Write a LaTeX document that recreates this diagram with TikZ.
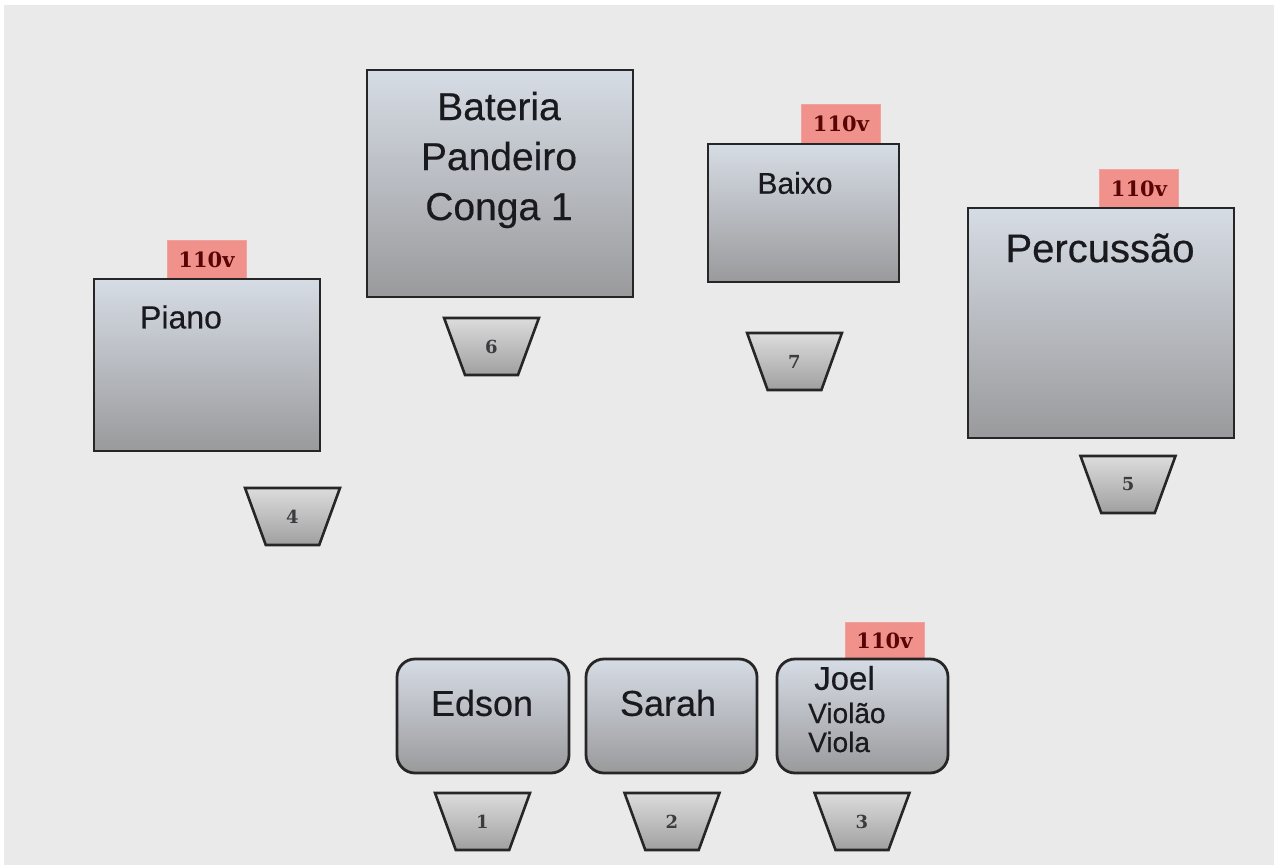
\documentclass[tikz,border=0pt]{standalone}
\usepackage{fontspec}
\setmainfont{Liberation Sans}[FakeBold=0.4]
\newfontfamily\tagfont{DejaVu Serif}
\usetikzlibrary{shapes.geometric}
\definecolor{bg}{HTML}{EAEAEA}
\definecolor{boxtop}{HTML}{D6DCE5}
\definecolor{boxbot}{HTML}{9A9A9C}
\definecolor{edge}{HTML}{262626}
\definecolor{tagfill}{HTML}{F0928B}
\definecolor{tagtext}{HTML}{5A0505}
\definecolor{montop}{HTML}{DCDCDC}
\definecolor{monbot}{HTML}{A0A0A0}
\definecolor{ink}{HTML}{1A1A1E}
\begin{document}
\begin{tikzpicture}[x=1pt,y=-1pt,
  stagebox/.style={draw=edge, line width=2.8pt, top color=boxtop, bottom color=boxbot, inner sep=0pt},
  roundbox/.style={stagebox, rounded corners=18pt},
  powertag/.style={fill=tagfill, draw=tagfill!85!white, line width=0.6pt, minimum width=79, minimum height=39, inner sep=0pt,
    text=tagtext, font=\tagfont\bfseries\fontsize{21}{21}\selectfont},
  monitor/.style={trapezium, trapezium stretches=true, shape border rotate=180,
    trapezium left angle=70, trapezium right angle=70, minimum width=95, minimum height=57,
    draw=edge, line width=2.6pt, top color=montop, bottom color=monbot, inner sep=0pt,
    text=ink!85, font=\tagfont\bfseries\fontsize{18}{18}\selectfont},
  lbl/.style={text=ink, inner sep=0pt}
]
\useasboundingbox (0,0) rectangle (1274,865);
\fill[white] (0,0) rectangle (1274,865);
\fill[bg] (4,5) rectangle (1274,865);

% power tags (behind boxes)
\node[powertag] (tpiano) at (206.5,259.5) {110v};
\node[powertag] (tbaixo) at (841,124) {110v};
\node[powertag] (tperc) at (1139,189) {110v};
\node[powertag, minimum height=37] (tjoel) at (884.5,640.5) {110v};

% stage boxes
\node[stagebox, minimum width=226, minimum height=172] (piano) at (207,365) {};
\node[stagebox, minimum width=266, minimum height=227] (bateria) at (500,183.5) {};
\node[stagebox, minimum width=191, minimum height=138] (baixo) at (803.5,213) {};
\node[stagebox, minimum width=266, minimum height=230] (perc) at (1101,323) {};
\node[roundbox, minimum width=172, minimum height=114] (edson) at (483,716) {};
\node[roundbox, minimum width=171, minimum height=114] (sarah) at (671.5,716) {};
\node[roundbox, minimum width=171, minimum height=114] (joel) at (862.5,716) {};

% texts
\node[lbl, font=\fontsize{32}{32}\selectfont] (tx-piano) at (181,317) {Piano};
\node[lbl, align=center, font=\fontsize{39}{50}\selectfont] (tx-bat) at (499,160) {Bateria\\Pandeiro\\Conga 1};
\node[lbl, font=\fontsize{30}{30}\selectfont] (tx-baixo) at (795,183) {Baixo};
\node[lbl, font=\fontsize{40}{40}\selectfont] (tx-perc) at (1100,248) {Percussão};
\node[lbl, font=\fontsize{36}{36}\selectfont] (tx-edson) at (482,703) {Edson};
\node[lbl, font=\fontsize{36}{36}\selectfont] (tx-sarah) at (668,703) {Sarah};
\node[lbl, anchor=west, font=\fontsize{33}{33}\selectfont] (tx-joel) at (814,678) {Joel};
\node[lbl, anchor=west, font=\fontsize{28}{28}\selectfont] (tx-violao) at (808,713) {Violão};
\node[lbl, anchor=west, font=\fontsize{28}{28}\selectfont] (tx-viola) at (808,742) {Viola};

% monitors
\node[monitor] (m6) at (491.5,346.5) {6};
\node[monitor] (m7) at (794.5,361.5) {7};
\node[monitor] (m4) at (292.5,516.5) {4};
\node[monitor] (m5) at (1128,484.5) {5};
\node[monitor] (m1) at (482.5,821.5) {1};
\node[monitor] (m2) at (672,821.5) {2};
\node[monitor] (m3) at (862,821.5) {3};
\end{tikzpicture}
\end{document}
